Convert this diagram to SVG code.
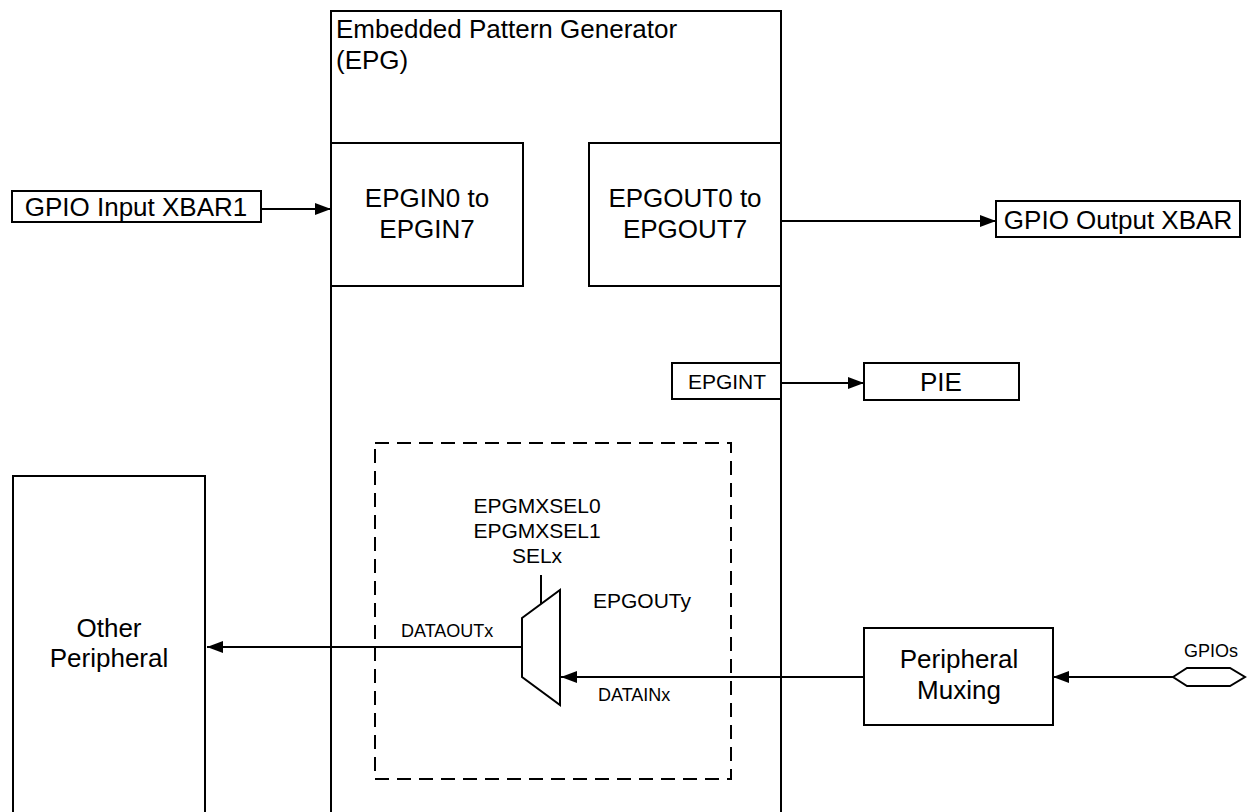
<svg xmlns="http://www.w3.org/2000/svg" width="1249" height="812" viewBox="0 0 1249 812">
<defs>
<marker id="arr" viewBox="0 0 16 12" refX="16" refY="6" markerWidth="16" markerHeight="12" markerUnits="userSpaceOnUse" orient="auto">
<path d="M0,0 L16,6 L0,12 Z" fill="#000"/>
</marker>
</defs>
<style>
.box{fill:#fff;stroke:#000;stroke-width:2}
.dash{fill:none;stroke:#000;stroke-width:2;stroke-dasharray:14,8}
.ln{fill:none;stroke:#000;stroke-width:2}
.arw{fill:none;stroke:#000;stroke-width:2;marker-end:url(#arr)}
text{font-family:"Liberation Sans",Arial,sans-serif;fill:#000}
.big{font-size:26px}
.mid{font-size:21px}
.sm{font-size:18px}
.c{text-anchor:middle}
</style>
<rect width="1249" height="812" fill="#fff"/>
<g id="epg">
<rect class="box" x="331" y="11" width="450" height="810"/>
<text class="big" x="336" y="38">Embedded Pattern Generator</text>
<text class="big" x="336" y="69">(EPG)</text>
</g>
<g id="epgin">
<rect class="box" x="331" y="143" width="192" height="143"/>
<text class="big c" x="427" y="207">EPGIN0 to</text>
<text class="big c" x="427" y="238">EPGIN7</text>
</g>
<g id="epgout">
<rect class="box" x="589" y="143" width="192" height="143"/>
<text class="big c" x="685" y="207">EPGOUT0 to</text>
<text class="big c" x="685" y="238">EPGOUT7</text>
</g>
<g id="gpio-in">
<rect class="box" x="12" y="191" width="249" height="31"/>
<text class="big c" x="136" y="216">GPIO Input XBAR1</text>
</g>
<g id="gpio-out">
<rect class="box" x="996" y="201" width="244" height="36"/>
<text class="big c" x="1118" y="229">GPIO Output XBAR</text>
</g>
<g id="epgint">
<rect class="box" x="672" y="363" width="109" height="36"/>
<text class="mid c" x="727" y="389">EPGINT</text>
</g>
<g id="pie">
<rect class="box" x="864" y="363" width="155" height="37"/>
<text class="big c" x="941" y="391">PIE</text>
</g>
<g id="mux-region">
<rect class="dash" x="375" y="443" width="356" height="336"/>
<text class="mid c" x="537" y="513">EPGMXSEL0</text>
<text class="mid c" x="537" y="538">EPGMXSEL1</text>
<text class="mid c" x="537" y="563">SELx</text>
<text class="mid" x="593" y="608">EPGOUTy</text>
<text class="sm" x="401" y="637">DATAOUTx</text>
<text class="sm" x="598" y="701">DATAINx</text>
</g>
<g id="mux">
<polygon class="box" points="522,618 560,590 560,705 522,677"/>
</g>
<g id="other-peripheral">
<rect class="box" x="13" y="476" width="192" height="350"/>
<text class="big c" x="109" y="637">Other</text>
<text class="big c" x="109" y="667">Peripheral</text>
</g>
<g id="peripheral-muxing">
<rect class="box" x="864" y="628" width="189" height="97"/>
<text class="big c" x="959" y="668">Peripheral</text>
<text class="big c" x="959" y="699">Muxing</text>
</g>
<g id="gpios">
<polygon class="box" points="1173,677 1187,668 1230,668 1245,677 1230,686 1187,686"/>
<text class="sm c" x="1211" y="657">GPIOs</text>
</g>
<g id="connectors">
<line class="arw" x1="261" y1="209" x2="331" y2="209"/>
<line class="arw" x1="781" y1="221" x2="996" y2="221"/>
<line class="arw" x1="781" y1="383" x2="864" y2="383"/>
<line class="arw" x1="522" y1="647" x2="207" y2="647"/>
<line class="arw" x1="864" y1="677" x2="561" y2="677"/>
<line class="arw" x1="1173" y1="677" x2="1053" y2="677"/>
<line class="ln" x1="541" y1="575" x2="541" y2="604"/>
</g>
</svg>
